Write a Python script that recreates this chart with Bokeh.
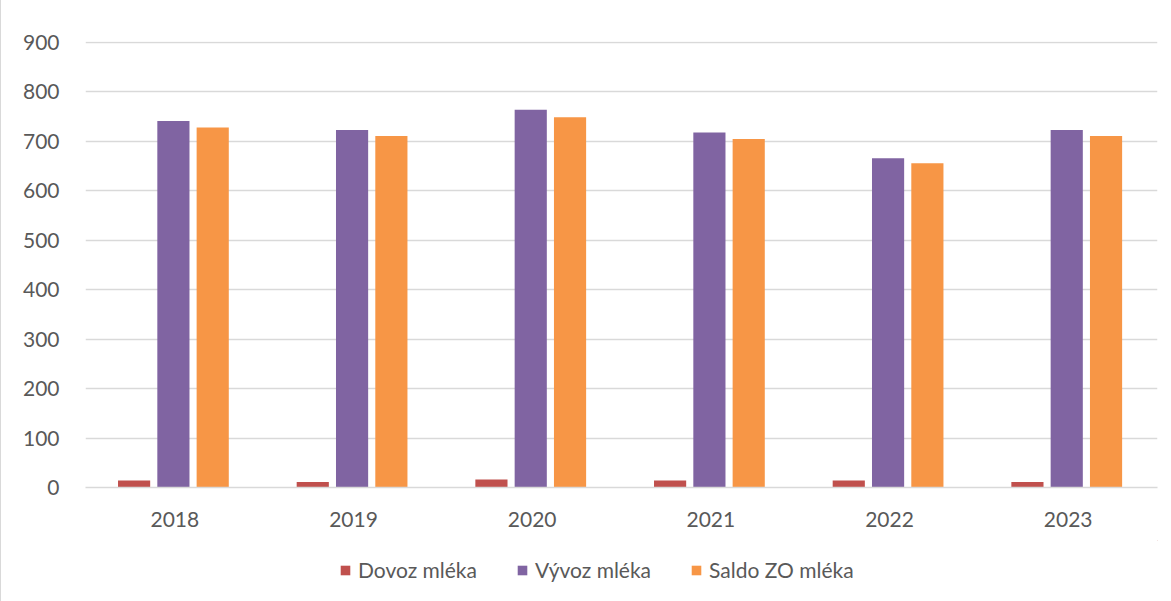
from bokeh.plotting import figure
from bokeh.models import ColumnDataSource, FactorRange, Range1d, Legend, LegendItem
from bokeh.layouts import column
from bokeh.transform import dodge
from bokeh.embed import file_html
from bokeh.resources import INLINE

years = ["2018", "2019", "2020", "2021", "2022", "2023"]
dovoz = [14, 11, 16, 14, 14, 11]
vyvoz = [741, 723, 764, 718, 666, 723]
saldo = [728, 711, 749, 705, 656, 711]
series_names = ["Dovoz mléka", "Vývoz mléka", "Saldo ZO mléka"]
colors = ["#C0504D", "#8064A2", "#F79646"]
y_ticks = [0, 100, 200, 300, 400, 500, 600, 700, 800, 900]

FONT = "Lato"
FS = "21px"
TXT = "#595959"

src = ColumnDataSource(dict(years=years, dovoz=dovoz, vyvoz=vyvoz, saldo=saldo))

p = figure(width=1171, height=540, x_range=FactorRange(*years, range_padding=0),
           y_range=Range1d(0, 902), output_backend="svg", toolbar_location=None,
           min_border_left=84, min_border_right=15, min_border_top=41, min_border_bottom=53)
p.styles = {"border-left": "1px solid #d9d9d9"}
p.outline_line_color = None

cols = ["dovoz", "vyvoz", "saldo"]
offs = [-0.228, -0.008, 0.212]
rs = []
for c, o, col in zip(cols, offs, colors):
    rs.append(p.vbar(x=dodge("years", o, range=p.x_range), top=c, width=0.18, source=src,
                     color=col, line_color=None))

p.xgrid.grid_line_color = None
p.ygrid.grid_line_color = "#d9d9d9"
p.ygrid.grid_line_width = 1.5
p.yaxis.ticker = y_ticks
p.yaxis.axis_line_color = None
p.yaxis.major_tick_line_color = None
p.yaxis.minor_tick_line_color = None
p.yaxis.major_label_standoff = 20
p.xaxis.axis_line_color = "#d9d9d9"
p.xaxis.axis_line_width = 1.5
p.xaxis.major_tick_line_color = None
p.xaxis.major_label_standoff = 18
for ax in (p.xaxis, p.yaxis):
    ax.major_label_text_font = FONT
    ax.major_label_text_font_size = FS
    ax.major_label_text_color = TXT

# legend strip
lg = figure(width=1171, height=61, x_range=Range1d(0, 1), y_range=Range1d(0, 1),
            x_axis_type=None, y_axis_type=None,
            output_backend="svg", toolbar_location=None,
            min_border_left=0, min_border_right=0, min_border_top=0, min_border_bottom=0)
lg.styles = {"border-left": "1px solid #d9d9d9"}
lg.outline_line_color = None
lg.grid.visible = False
dummy = ColumnDataSource(dict(x=[5.0], top=[5.0]))
lrs = [lg.vbar(x="x", top="top", bottom=4.0, width=0.1, source=dummy, color=col, line_color=None)
       for col in colors]
legend = Legend(items=[LegendItem(label=n, renderers=[r]) for n, r in zip(series_names, lrs)],
                orientation="horizontal", location=(254, 19),
                label_text_font=FONT, label_text_font_size=FS, label_text_color=TXT,
                glyph_width=12, glyph_height=12, label_standoff=7, spacing=39,
                border_line_color=None, background_fill_alpha=0, margin=0, padding=0)
lg.add_layout(legend, "center")

layout = column(p, lg, spacing=0)
open("out.html", "w").write(file_html(layout, INLINE))
